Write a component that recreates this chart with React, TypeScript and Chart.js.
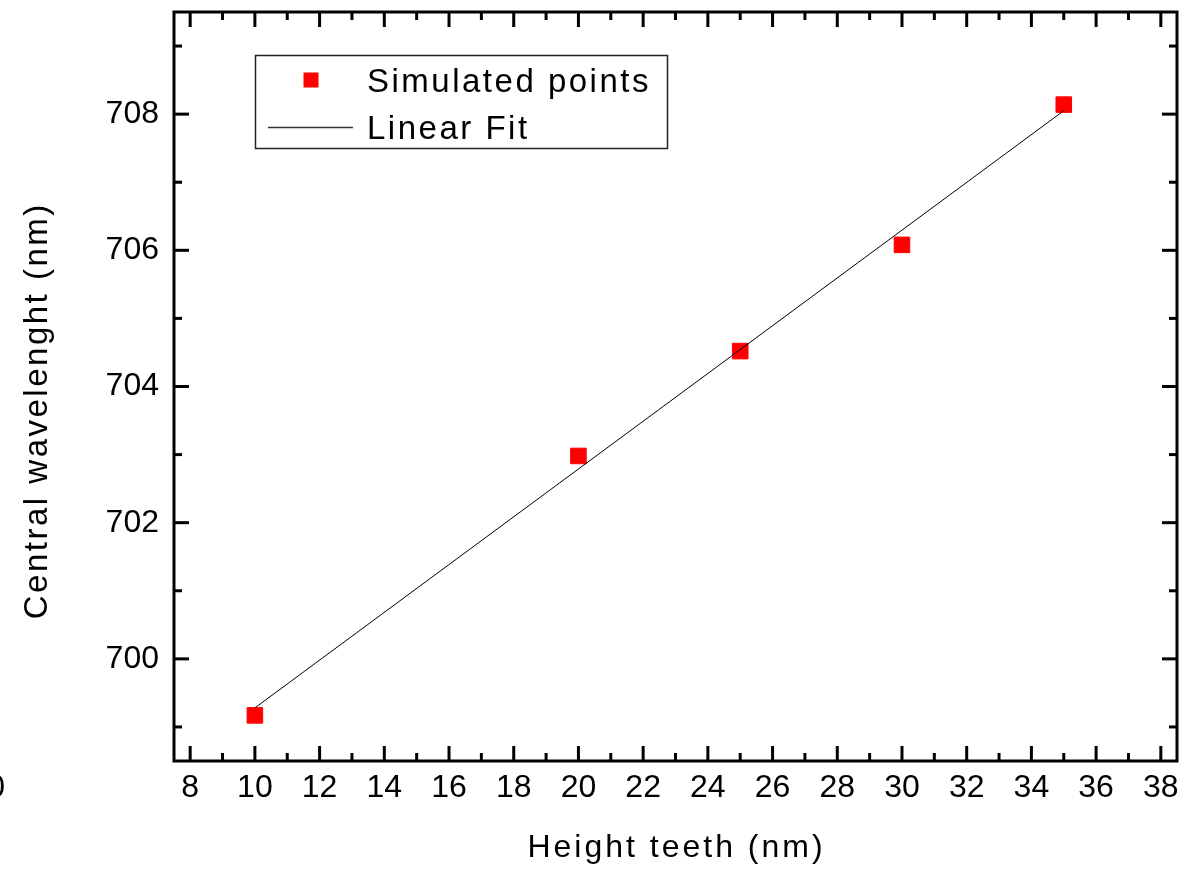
import { useEffect, useRef } from "react";
import { Chart, registerables } from "chart.js";

Chart.register(...registerables);

// ---- data ----
const heightTeeth = [10, 20, 25, 30, 35];
const centralWavelength = [699.17, 702.98, 704.52, 706.08, 708.14];
const fitHeight = [10, 35];
const fitWavelength = [699.28, 708.05];

const xMajorTicks = [8, 10, 12, 14, 16, 18, 20, 22, 24, 26, 28, 30, 32, 34, 36, 38];
const xMinorTicks = [9, 11, 13, 15, 17, 19, 21, 23, 25, 27, 29, 31, 33, 35, 37];
const yMajorTicks = [700, 702, 704, 706, 708];
const yMinorTicks = [699, 701, 703, 705, 707, 709];
const xRange = [7.5, 38.5];
const yRange = [698.5, 709.5];

const seriesLabels = ["Simulated points", "Linear Fit"];
const xTitle = "Height teeth (nm)";
const yTitle = "Central wavelenght (nm)";
const strayLabel = "0";

const FONT = '"Liberation Sans", Arial, sans-serif';

const framePlugin = {
  id: "originFrame",
  afterDraw(chart: any) {
    const { ctx, chartArea: a, scales } = chart;
    const xs = scales.x;
    const ys = scales.y;
    ctx.save();
    ctx.strokeStyle = "#000";
    ctx.lineCap = "butt";
    ctx.lineWidth = 3;
    ctx.strokeRect(a.left, a.top, a.right - a.left, a.bottom - a.top);

    const seg = (x1: number, y1: number, x2: number, y2: number) => {
      ctx.beginPath();
      ctx.moveTo(x1, y1);
      ctx.lineTo(x2, y2);
      ctx.stroke();
    };
    const MAJ = 15;
    const MIN = 8;
    xMajorTicks.forEach((v) => {
      const p = xs.getPixelForValue(v);
      seg(p, a.bottom, p, a.bottom - MAJ);
      seg(p, a.top, p, a.top + MAJ);
    });
    xMinorTicks.forEach((v) => {
      const p = xs.getPixelForValue(v);
      seg(p, a.bottom, p, a.bottom - MIN);
      seg(p, a.top, p, a.top + MIN);
    });
    yMajorTicks.forEach((v) => {
      const p = ys.getPixelForValue(v);
      seg(a.left, p, a.left + MAJ, p);
      seg(a.right, p, a.right - MAJ, p);
    });
    yMinorTicks.forEach((v) => {
      const p = ys.getPixelForValue(v);
      seg(a.left, p, a.left + MIN, p);
      seg(a.right, p, a.right - MIN, p);
    });

    // axis titles
    ctx.fillStyle = "#000";
    ctx.font = `32px ${FONT}`;
    ctx.letterSpacing = "3px";
    ctx.textAlign = "center";
    ctx.textBaseline = "alphabetic";
    ctx.fillText(xTitle, (a.left + a.right) / 2 + 1, 857);

    ctx.save();
    ctx.font = `33px ${FONT}`;
    ctx.letterSpacing = "2.5px";
    ctx.translate(47, 412);
    ctx.rotate(-Math.PI / 2);
    ctx.fillText(yTitle, 1.25, 0);
    ctx.restore();

    // legend
    ctx.letterSpacing = "0px";
    ctx.lineWidth = 1.5;
    ctx.strokeStyle = "#222";
    ctx.strokeRect(255.5, 55.5, 412, 93);
    ctx.fillStyle = "#ff0000";
    ctx.fillRect(303.5, 72.5, 15, 15);
    ctx.strokeStyle = "#333";
    ctx.lineWidth = 1.5;
    seg(268, 127.5, 353, 127.5);
    ctx.fillStyle = "#000";
    ctx.font = `33px ${FONT}`;
    ctx.letterSpacing = "2.5px";
    ctx.textAlign = "left";
    ctx.fillText(seriesLabels[0], 367, 92);
    ctx.fillText(seriesLabels[1], 367, 139);

    // stray cropped label at the left edge
    ctx.letterSpacing = "0px";
    ctx.font = `32px ${FONT}`;
    ctx.textAlign = "right";
    ctx.fillText(strayLabel, 5, 797);
    ctx.restore();
  },
};

export default function App() {
  const canvasRef = useRef<HTMLCanvasElement | null>(null);

  useEffect(() => {
    document.body.style.margin = "0";
    const canvas = canvasRef.current;
    if (!canvas) return;
    const chart = new Chart(canvas, {
      type: "scatter",
      data: {
        datasets: [
          {
            type: "line",
            label: seriesLabels[1],
            data: fitHeight.map((x, i) => ({ x, y: fitWavelength[i] })),
            borderColor: "#000",
            borderWidth: 1,
            pointRadius: 0,
            fill: false,
            order: 0,
          } as any,
          {
            type: "scatter",
            label: seriesLabels[0],
            data: heightTeeth.map((x, i) => ({ x, y: centralWavelength[i] })),
            backgroundColor: "#ff0000",
            borderColor: "#ff0000",
            borderWidth: 1,
            pointStyle: "rect",
            pointRadius: 11,
            order: 1,
          } as any,
        ],
      },
      options: {
        responsive: false,
        animation: false,
        devicePixelRatio: 1,
        layout: { autoPadding: false, padding: { top: 12, right: 5, left: 0, bottom: 0 } },
        plugins: { legend: { display: false }, tooltip: { enabled: false } },
        scales: {
          x: {
            type: "linear",
            position: "bottom",
            min: xRange[0],
            max: xRange[1],
            grid: { display: false, drawTicks: false },
            border: { display: false },
            ticks: {
              font: { family: FONT, size: 32 },
              color: "#000",
              padding: 8,
              maxRotation: 0,
              autoSkip: false,
            },
            afterBuildTicks: (s: any) => {
              s.ticks = xMajorTicks.map((v) => ({ value: v }));
            },
            afterFit: (s: any) => {
              s.height = 108;
              s.paddingLeft = 0;
              s.paddingRight = 0;
            },
          },
          y: {
            type: "linear",
            position: "left",
            min: yRange[0],
            max: yRange[1],
            grid: { display: false, drawTicks: false },
            border: { display: false },
            ticks: {
              font: { family: FONT, size: 32 },
              color: "#000",
              padding: 15,
              autoSkip: false,
            },
            afterBuildTicks: (s: any) => {
              s.ticks = yMajorTicks.map((v) => ({ value: v }));
            },
            afterFit: (s: any) => {
              s.width = 174;
              s.paddingTop = 0;
              s.paddingBottom = 0;
            },
          },
        },
      } as any,
      plugins: [framePlugin],
    });
    return () => chart.destroy();
  }, []);

  return (
    <div style={{ width: 1182, height: 869, background: "#fff" }}>
      <canvas ref={canvasRef} width={1182} height={869} style={{ display: "block" }} />
    </div>
  );
}
